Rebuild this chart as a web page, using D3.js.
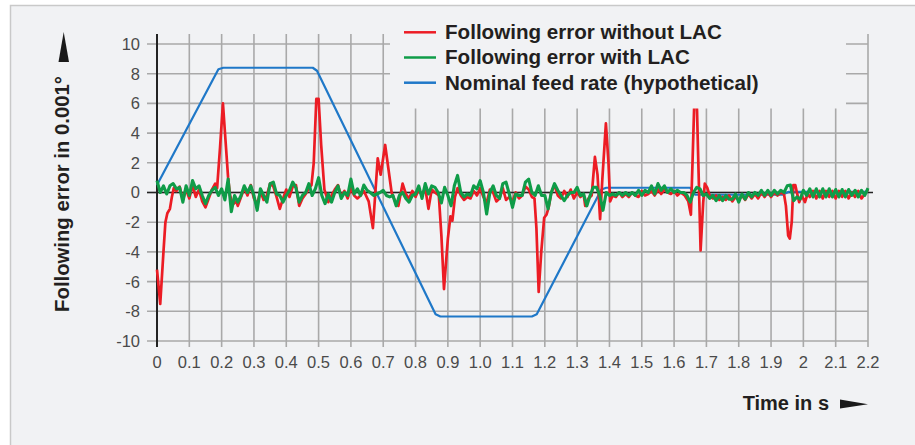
<!DOCTYPE html>
<html>
<head>
<meta charset="utf-8">
<script src="https://cdn.jsdelivr.net/npm/d3@7"></script>
<style>
  html, body { margin: 0; padding: 0; background: #ffffff; }
  svg { display: block; }
</style>
</head>
<body>
<svg id="chart" width="915" height="445"></svg>
<script>
// ---- axis ticks ----
const timeTicks = [0, 0.1, 0.2, 0.3, 0.4, 0.5, 0.6, 0.7, 0.8, 0.9, 1.0, 1.1,
                   1.2, 1.3, 1.4, 1.5, 1.6, 1.7, 1.8, 1.9, 2.0, 2.1, 2.2];
const timeTickLabels = ["0", "0.1", "0.2", "0.3", "0.4", "0.5", "0.6", "0.7", "0.8", "0.9", "1.0", "1.1",
                        "1.2", "1.3", "1.4", "1.5", "1.6", "1.7", "1.8", "1.9", "2", "2.1", "2.2"];
const errorTicks = [-10, -8, -6, -4, -2, 0, 2, 4, 6, 8, 10];
const errorTickLabels = ["-10", "-8", "-6", "-4", "-2", "0", "2", "4", "6", "8", "10"];

// ---- legend ----
const seriesNames = ["Following error without LAC", "Following error with LAC", "Nominal feed rate (hypothetical)"];
const seriesColors = ["#ec1c24", "#0f9c48", "#1f78c8"];

// ---- following error with LAC, sampled every 10 ms from t = 0 s ----
const sampleStep = 0.01;
const errorWithLAC = [
  0.8, 0.0, 0.45, -0.1, 0.45, 0.6, 0.25, 0.35, -0.65, 0.45,
  -0.2, 0.8, 0.25, 0.45, -0.2, -0.75, -0.2, 0.15, 0.35, -0.2,
  0.25, -0.5, 0.9, -1.3, -0.2, -0.65, -0.2, 0.45, 0.0, 0.45,
  -0.2, -1.2, 0.25, -0.2, -0.65, 0.6, 0.7, -0.1, -0.2, -0.65,
  -0.2, 0.15, 0.7, 0.3, -0.65, -0.2, 0.0, 0.6, -0.2, 0.25,
  1.0, -0.2, -0.75, -0.1, -0.65, 0.0, 0.45, -0.4, 0.0, -0.2,
  0.9, -0.1, 0.25, -0.2, 0.5, 0.15, 0.0, -0.2, -0.1, 0.0,
  0.15, -0.2, -0.3, -0.2, -0.9, -0.2, 0.0, -0.4, -0.65, -0.2,
  -0.1, 0.45, -0.4, 0.6, -0.1, 0.45, 0.35, 0.0, -0.7, 0.35,
  -0.2, -0.9, 0.45, 1.15, 0.0, -0.3, -0.1, -0.2, 0.45, 0.25,
  0.8, 0.0, -1.45, 0.0, 0.45, -0.2, -0.4, 0.6, 0.7, -0.1,
  -1.0, -0.1, -0.2, -0.2, 0.7, 0.9, 0.0, -0.2, 0.45, -0.2,
  -0.2, -1.1, 0.0, 0.6, 0.15, -0.2, -0.55, -0.2, 0.0, 0.0,
  0.35, -0.2, -0.1, -0.9, -0.2, 0.35, 0.35, -0.2, -1.2, 0.0,
  -0.2, -0.1, -0.2, 0.0, -0.2, 0.0, -0.2, 0.0, -0.2, 0.15,
  -0.2, 0.15, 0.0, 0.45, -0.1, 0.6, 0.15, 0.45, 0.0, 0.25,
  0.0, 0.15, 0.0, 0.0, -0.2, -0.65, 0.0, 0.35, 0.25, -0.2,
  -0.1, -0.4, -0.2, -0.55, -0.2, -0.55, -0.2, -0.45, -0.45, -0.1,
  -0.65, -0.1, -0.45, 0.0, -0.3, 0.0, -0.2, 0.15, -0.2, 0.15,
  -0.2, 0.15, -0.1, 0.15, 0.0, 0.45, 0.5, -0.55, -0.3, -0.45,
  0.15, -0.2, 0.25, -0.3, 0.25, -0.3, 0.25, -0.3, 0.25, -0.3,
  0.2, -0.3, 0.2, -0.3, 0.2, -0.2, 0.15, -0.3, 0.15, -0.2,
  0.3
];

// ---- following error without LAC: [time s, error 0.001 deg] ----
const errorWithoutLAC = [
  [0.000, -5.2], [0.010, -7.5], [0.020, -4.0], [0.026, -2.0], [0.032, -1.4], [0.040, -1.1],
  [0.046, -0.3], [0.052, 0.3], [0.06, 0.1], [0.07, 0.4], [0.08, -0.5], [0.09, 0.2],
  [0.10, -0.4], [0.11, 0.5], [0.12, -0.3], [0.13, 0.2], [0.14, -0.6], [0.15, -1.0],
  [0.16, -0.4], [0.17, 0.2], [0.18, 0.6], [0.186, 0.3], [0.195, 3.0], [0.204, 6.0],
  [0.212, 3.5], [0.220, 1.0], [0.226, -0.2], [0.235, -0.8], [0.245, -0.6], [0.25, -0.9],
  [0.26, -0.3], [0.27, 0.3], [0.28, -0.2], [0.29, 0.5], [0.30, -0.4], [0.31, -0.8],
  [0.32, 0.1], [0.33, -0.5], [0.34, -0.2], [0.35, 0.6], [0.36, 0.4], [0.37, -0.3],
  [0.38, -1.1], [0.39, -0.4], [0.40, 0.2], [0.41, -0.3], [0.42, 0.4], [0.43, 0.5],
  [0.44, -0.9], [0.45, -0.4], [0.46, -0.1], [0.47, 0.3], [0.478, 0.5], [0.485, 2.0],
  [0.493, 6.3], [0.500, 6.3], [0.508, 3.2], [0.518, 0.2], [0.53, -0.65], [0.54, -0.2],
  [0.55, 0.2], [0.56, 0.5], [0.57, -0.3], [0.58, 0.1], [0.59, -0.4], [0.60, 0.3],
  [0.61, -0.2], [0.62, -0.4], [0.63, -0.2], [0.64, 0.1], [0.655, -0.6], [0.668, -2.4],
  [0.675, -0.2], [0.683, 2.3], [0.692, 1.2], [0.706, 3.2], [0.716, 1.6], [0.726, 0.0],
  [0.737, -0.6], [0.747, -0.9], [0.76, 0.6], [0.77, -0.1], [0.78, -0.4], [0.79, 0.1],
  [0.80, -0.3], [0.81, 0.2], [0.82, -0.2], [0.83, 0.3], [0.84, -1.1], [0.85, 0.2],
  [0.86, 0.0], [0.872, -0.2], [0.880, -2.9], [0.888, -6.5], [0.900, -3.1], [0.908, -1.6],
  [0.914, -1.9], [0.922, -0.3], [0.93, 0.3], [0.94, -0.2], [0.95, -0.5], [0.96, -0.3],
  [0.97, -0.4], [0.98, 0.1], [0.99, -0.2], [1.00, 0.3], [1.01, -0.3], [1.02, -0.7],
  [1.03, 0.2], [1.04, 0.0], [1.05, -0.6], [1.06, -0.4], [1.07, 0.3], [1.08, -0.5],
  [1.09, -0.3], [1.10, -0.6], [1.11, 0.0], [1.12, -0.4], [1.13, -0.2], [1.14, 0.4],
  [1.15, 0.2], [1.160, -0.3], [1.168, -0.4], [1.174, -2.4], [1.181, -6.7], [1.189, -4.0],
  [1.198, -1.7], [1.205, -1.5], [1.212, -1.0], [1.22, 0.0], [1.23, 0.5], [1.24, -0.2],
  [1.25, -0.4], [1.26, 0.1], [1.27, -0.3], [1.28, 0.2], [1.29, -0.4], [1.30, 0.0],
  [1.31, -0.3], [1.32, -0.1], [1.325, -0.9], [1.335, -0.4], [1.345, -0.2], [1.355, 2.4],
  [1.363, 1.2], [1.371, -1.8], [1.378, 0.9], [1.389, 4.65], [1.397, 2.0], [1.402, -0.6],
  [1.41, -0.2], [1.42, -0.3], [1.43, 0.0], [1.44, -0.3], [1.45, -0.1], [1.46, -0.3],
  [1.47, 0.0], [1.48, -0.2], [1.49, -0.3], [1.50, 0.1], [1.51, -0.2], [1.52, -0.1],
  [1.53, 0.1], [1.54, -0.2], [1.55, 0.2], [1.56, -0.1], [1.57, 0.2], [1.58, 0.0],
  [1.59, -0.1], [1.60, 0.1], [1.61, -0.2], [1.62, 0.0], [1.633, -0.2], [1.644, -0.6],
  [1.652, -1.5], [1.657, 2.0], [1.662, 5.7], [1.667, 7.6], [1.671, 5.5], [1.675, 2.0],
  [1.682, -3.9], [1.690, -0.7], [1.695, 0.6], [1.703, 0.3], [1.71, -0.2], [1.72, -0.4],
  [1.73, -0.2], [1.74, -0.5], [1.75, -0.3], [1.76, -0.5], [1.77, -0.2], [1.78, -0.6],
  [1.79, -0.3], [1.80, -0.5], [1.81, -0.2], [1.82, -0.5], [1.83, -0.1], [1.84, -0.4],
  [1.85, -0.1], [1.86, -0.4], [1.87, 0.0], [1.88, -0.3], [1.89, 0.0], [1.90, -0.3],
  [1.91, 0.0], [1.92, -0.2], [1.93, 0.0], [1.940, -0.1], [1.946, -0.9], [1.953, -2.9],
  [1.958, -3.1], [1.964, -2.0], [1.969, 0.5], [1.975, 0.5], [1.980, 0.0], [1.987, -0.65],
  [1.995, -0.2], [2.005, -0.65], [2.013, -0.1], [2.02, -0.3], [2.03, 0.1], [2.04, -0.4],
  [2.05, 0.1], [2.06, -0.4], [2.07, 0.1], [2.08, -0.3], [2.09, 0.1], [2.10, -0.4],
  [2.11, 0.1], [2.12, -0.3], [2.13, 0.1], [2.14, -0.4], [2.15, 0.0], [2.16, -0.3],
  [2.17, 0.1], [2.18, -0.4], [2.19, -0.1], [2.20, 0.2]
];

// ---- nominal feed rate profile (hypothetical): [time s, value] ----
const nominalFeedRate = [
  [0.000, 0.5], [0.190, 8.3], [0.205, 8.4], [0.482, 8.4], [0.495, 8.2],
  [0.862, -8.2], [0.877, -8.35], [1.160, -8.35], [1.175, -8.2], [1.375, 0.2],
  [1.390, 0.32], [1.650, 0.32], [1.665, -0.15], [1.935, -0.15], [1.955, 0.05],
  [2.200, 0.05]
];

// ---- drawing ----
const W = 915, H = 445;
const bg = "#f1f2f4";
const gridColor = "#a9a9a9";
const axisColor = "#232323";
const textColor = "#231f20";
const fontFamily = "'Liberation Sans', Arial, Helvetica, sans-serif";

const svg = d3.select("#chart");

// panel
svg.append("rect")
  .attr("x", 10.5).attr("y", 5.5)
  .attr("width", W + 20).attr("height", H + 20)
  .attr("fill", bg).attr("stroke", "#c9c9c9").attr("stroke-width", 1.5);

const x = d3.scaleLinear().domain([0, 2.2]).range([157, 868]);
const y = d3.scaleLinear().domain([-10, 10]).range([341, 44]);

const gridTop = 34, gridBottom = 347, gridLeft = 147;

// grid
const grid = svg.append("g");
grid.selectAll("line.v").data(timeTicks).join("line")
  .attr("class", "v")
  .attr("x1", d => x(d)).attr("x2", d => x(d))
  .attr("y1", gridTop).attr("y2", gridBottom)
  .attr("stroke", gridColor).attr("stroke-width", 1.6);
grid.selectAll("line.h").data(errorTicks).join("line")
  .attr("class", "h")
  .attr("x1", gridLeft).attr("x2", x(2.2))
  .attr("y1", d => y(d)).attr("y2", d => y(d))
  .attr("stroke", gridColor).attr("stroke-width", 1.6);

// axes lines
svg.append("line")
  .attr("x1", x(0)).attr("x2", x(0)).attr("y1", gridTop).attr("y2", gridBottom)
  .attr("stroke", axisColor).attr("stroke-width", 2);
svg.append("line")
  .attr("x1", gridLeft).attr("x2", x(2.2) + 5).attr("y1", y(0)).attr("y2", y(0))
  .attr("stroke", axisColor).attr("stroke-width", 1.6);

// tick labels
svg.append("g").selectAll("text").data(timeTicks).join("text")
  .attr("x", d => x(d)).attr("y", 367.5)
  .attr("text-anchor", "middle")
  .attr("font-family", fontFamily).attr("font-size", 16.5)
  .attr("fill", "#4a4a4a")
  .text((d, i) => timeTickLabels[i]);
svg.append("g").selectAll("text").data(errorTicks).join("text")
  .attr("x", 140).attr("y", d => y(d)).attr("dy", "0.36em")
  .attr("text-anchor", "end")
  .attr("font-family", fontFamily).attr("font-size", 16.5)
  .attr("fill", "#4a4a4a")
  .text((d, i) => errorTickLabels[i]);

// series
const line = d3.line().x(d => x(d[0])).y(d => y(d[1]));
const withLAC = errorWithLAC.map((v, i) => [i * sampleStep, v]);

svg.append("path").datum(nominalFeedRate)
  .attr("d", line).attr("fill", "none")
  .attr("stroke", seriesColors[2]).attr("stroke-width", 2.2)
  .attr("stroke-linejoin", "round");
svg.append("path").datum(errorWithoutLAC)
  .attr("d", line).attr("fill", "none")
  .attr("stroke", seriesColors[0]).attr("stroke-width", 2.7)
  .attr("stroke-linejoin", "round");
svg.append("path").datum(withLAC)
  .attr("d", line).attr("fill", "none")
  .attr("stroke", seriesColors[1]).attr("stroke-width", 3.1)
  .attr("stroke-linejoin", "round");

// legend panel sits on top of the plot
svg.append("rect")
  .attr("x", 390).attr("y", 20).attr("width", 456).attr("height", 88.5)
  .attr("fill", bg);
const legend = svg.append("g");
const legendRows = [32.3, 57.5, 82.7];
seriesNames.forEach((name, i) => {
  legend.append("line")
    .attr("x1", 404).attr("x2", 436)
    .attr("y1", legendRows[i]).attr("y2", legendRows[i])
    .attr("stroke", seriesColors[i]).attr("stroke-width", 2.5);
  legend.append("text")
    .attr("x", 445).attr("y", legendRows[i] + 6.8)
    .attr("font-family", fontFamily).attr("font-size", 20.6).attr("font-weight", "bold")
    .attr("fill", textColor)
    .text(name);
});

// axis titles with arrows
svg.append("text")
  .attr("transform", "translate(68.5,194) rotate(-90)")
  .attr("text-anchor", "middle")
  .attr("font-family", fontFamily).attr("font-size", 20.3).attr("font-weight", "bold")
  .attr("fill", textColor)
  .text("Following error in 0.001°");
svg.append("polygon")
  .attr("points", "58.5,62 69,62 63.7,32")
  .attr("fill", "#1a1a1a");

svg.append("text")
  .attr("x", 829).attr("y", 409.5)
  .attr("text-anchor", "end")
  .attr("font-family", fontFamily).attr("font-size", 20).attr("font-weight", "bold")
  .attr("fill", textColor)
  .text("Time in s");
svg.append("polygon")
  .attr("points", "840,399.5 840,408.5 868,404.3")
  .attr("fill", "#1a1a1a");
</script>
</body>
</html>
